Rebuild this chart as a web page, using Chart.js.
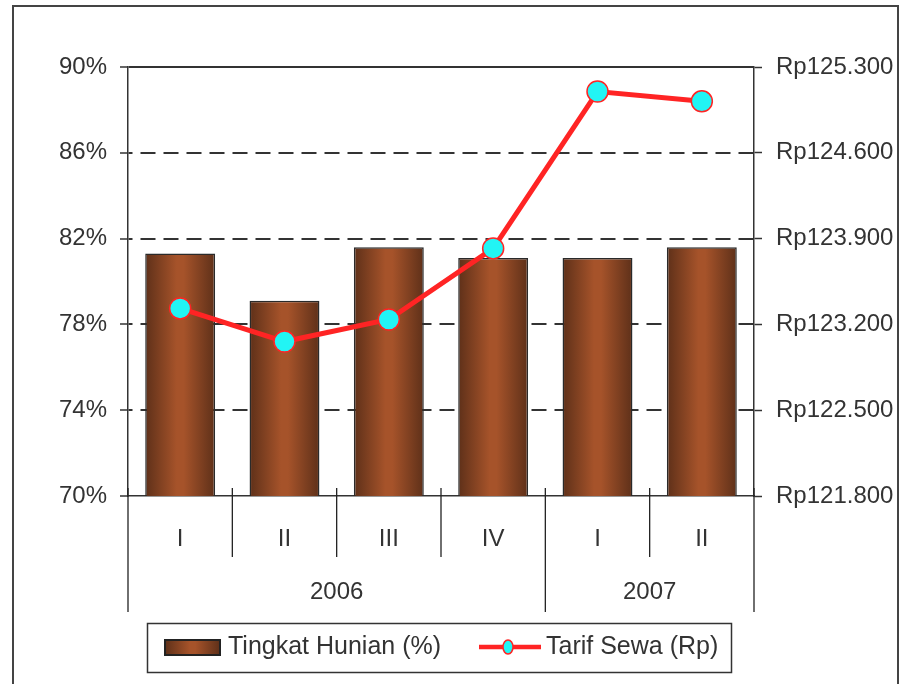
<!DOCTYPE html>
<html>
<head>
<meta charset="utf-8">
<script src="https://cdn.jsdelivr.net/npm/chart.js@4.4.0/dist/chart.umd.min.js"></script>
<style>
  html, body { margin: 0; padding: 0; background: #fff; }
  #wrap { width: 904px; height: 684px; }
</style>
</head>
<body>
<div id="wrap"><canvas id="chart-hunian" width="904" height="684"></canvas></div>
<script>
// data
var kuartal = ["I", "II", "III", "IV", "I", "II"];
var tahun = ["2006", "2007"];
var kuartalPerTahun = [4, 2];
var tingkatHunian = [81.3, 79.1, 81.6, 81.1, 81.1, 81.6];
var tarifSewa = [123330, 123060, 123240, 123820, 125100, 125020];
var tickHunian = [70, 74, 78, 82, 86, 90];
var tickTarif = [121800, 122500, 123200, 123900, 124600, 125300];

var HURUF = "'Liberation Sans', Arial, sans-serif";
var UKURAN = 24;
var LEBAR_BATANG = 0.67;

function gradien(ctx, x0, x1) {
    var g = ctx.createLinearGradient(x0, 0, x1, 0);
    g.addColorStop(0, '#5e3019');
    g.addColorStop(0.45, '#a6532a');
    g.addColorStop(0.55, '#a6532a');
    g.addColorStop(1, '#5e3019');
    return g;
}

function warnaBatang(c) {
    var chart = c.chart, x = chart.scales.x;
    if (!x || !x.width || c.dataIndex === undefined) return '#8e4522';
    var cx = x.getPixelForValue(c.dataIndex);
    var w = x.width / kuartal.length * LEBAR_BATANG;
    return gradien(chart.ctx, cx - w / 2, cx + w / 2);
}

function rupiah(v) {
    return 'Rp' + String(v).replace(/\B(?=(\d{3})+(?!\d))/g, '.');
}

var hiasan = {
    id: 'hiasan',
    afterDraw: function(chart) {
        var ctx = chart.ctx, x = chart.scales.x, a = chart.chartArea;
        var dsBatang = chart.data.datasets[1], dsGaris = chart.data.datasets[0];
        ctx.save();

        // bingkai luar
        ctx.strokeStyle = '#444';
        ctx.lineWidth = 2;
        ctx.strokeRect(13, 6, 885, 720);

        // garis pemisah kuartal dan tahun
        var batasTahun = [0];
        kuartalPerTahun.forEach(function(n, i) { batasTahun.push(batasTahun[i] + n); });
        ctx.strokeStyle = '#222';
        ctx.lineWidth = 1.3;
        for (var i = 0; i <= kuartal.length; i++) {
            var xb;
            if (i === 0) xb = a.left;
            else if (i === kuartal.length) xb = a.right;
            else xb = (x.getPixelForValue(i - 1) + x.getPixelForValue(i)) / 2;
            var panjang = batasTahun.indexOf(i) >= 0 ? 116 : 61;
            ctx.beginPath();
            ctx.moveTo(xb, a.bottom - 8);
            ctx.lineTo(xb, a.bottom + panjang);
            ctx.stroke();
        }

        // label tahun
        ctx.fillStyle = '#333';
        ctx.font = UKURAN + 'px ' + HURUF;
        ctx.textAlign = 'center';
        ctx.textBaseline = 'middle';
        for (var t = 0; t < tahun.length; t++) {
            var i0 = batasTahun[t], i1 = batasTahun[t + 1];
            var xa = i0 === 0 ? a.left : (x.getPixelForValue(i0 - 1) + x.getPixelForValue(i0)) / 2;
            var xz = i1 === kuartal.length ? a.right : (x.getPixelForValue(i1 - 1) + x.getPixelForValue(i1)) / 2;
            ctx.fillText(tahun[t], (xa + xz) / 2, 592);
        }

        // legenda
        ctx.strokeStyle = '#333';
        ctx.lineWidth = 1.5;
        ctx.strokeRect(147.5, 623.5, 584, 49);
        ctx.fillStyle = gradien(ctx, 165, 220);
        ctx.fillRect(165, 640, 55, 15);
        ctx.strokeStyle = '#222';
        ctx.lineWidth = 2;
        ctx.strokeRect(165, 640, 55, 15);
        ctx.fillStyle = '#333';
        ctx.textAlign = 'left';
        ctx.font = '25px ' + HURUF;
        ctx.fillText(dsBatang.label, 228, 647);

        ctx.strokeStyle = '#ff2424';
        ctx.lineWidth = 4.5;
        ctx.beginPath();
        ctx.moveTo(479, 647);
        ctx.lineTo(541, 647);
        ctx.stroke();
        ctx.beginPath();
        ctx.ellipse(508, 647, 5, 7, 0, 0, Math.PI * 2);
        ctx.fillStyle = '#22f4f4';
        ctx.fill();
        ctx.lineWidth = 1.5;
        ctx.stroke();
        ctx.fillStyle = '#333';
        ctx.fillText(dsGaris.label, 546, 647);

        ctx.restore();
    }
};

var ctx = document.getElementById('chart-hunian');
var grafik = new Chart(ctx, {
    type: 'bar',
    data: {
        labels: kuartal,
        datasets: [{
            type: 'line',
            label: 'Tarif Sewa (Rp)',
            data: tarifSewa,
            yAxisID: 'y1',
            borderColor: '#ff2424',
            borderWidth: 5,
            pointRadius: 10.5,
            pointBorderWidth: 1.5,
            pointBackgroundColor: '#22f4f4',
            pointBorderColor: '#ff2424',
            tension: 0,
            order: 1
        }, {
            label: 'Tingkat Hunian (%)',
            data: tingkatHunian,
            yAxisID: 'y',
            backgroundColor: warnaBatang,
            borderColor: '#2a2a2a',
            borderWidth: 1.5,
            barPercentage: LEBAR_BATANG,
            categoryPercentage: 1,
            order: 2
        }]
    },
    options: {
        responsive: false,
        animation: false,
        layout: { padding: { top: 67, left: 0, right: 0, bottom: 0 } },
        plugins: {
            legend: { display: false },
            tooltip: { enabled: false }
        },
        scales: {
            x: {
                offset: true,
                grid: { display: false, drawTicks: false },
                border: { display: true, color: '#333', width: 1.5 },
                ticks: { color: '#333', font: { family: HURUF, size: UKURAN }, padding: 29 },
                afterFit: function(s) { s.height = 188; }
            },
            y: {
                position: 'left',
                min: tickHunian[0],
                max: tickHunian[tickHunian.length - 1],
                afterBuildTicks: function(s) { s.ticks = tickHunian.map(function(v) { return { value: v }; }); },
                grid: {
                    color: function(c) {
                        var v = c.tick && c.tick.value;
                        return v === tickHunian[0] ? 'rgba(0,0,0,0)' : '#333';
                    },
                    lineWidth: 2,
                    tickLength: 8,
                    tickColor: '#333',
                    tickWidth: 1.5
                },
                border: {
                    display: true, color: '#333', width: 1.5,
                    dash: function(c) {
                        var v = c.tick && c.tick.value;
                        return v === tickHunian[tickHunian.length - 1] ? [] : [15, 8];
                    },
                    dashOffset: 11
                },
                ticks: {
                    color: '#333', padding: 13,
                    font: { family: HURUF, size: UKURAN },
                    callback: function(v) { return v + '%'; }
                },
                afterFit: function(s) { s.width = 128; }
            },
            y1: {
                position: 'right',
                min: tickTarif[0],
                max: tickTarif[tickTarif.length - 1],
                afterBuildTicks: function(s) { s.ticks = tickTarif.map(function(v) { return { value: v }; }); },
                grid: { drawOnChartArea: false, tickLength: 8, tickColor: '#333', tickWidth: 1.5, color: '#333' },
                border: { display: true, color: '#333', width: 1.5 },
                ticks: {
                    color: '#333', padding: 14,
                    font: { family: HURUF, size: UKURAN },
                    callback: function(v) { return rupiah(v); }
                },
                afterFit: function(s) { s.width = 150; }
            }
        }
    },
    plugins: [hiasan]
});
</script>
</body>
</html>
